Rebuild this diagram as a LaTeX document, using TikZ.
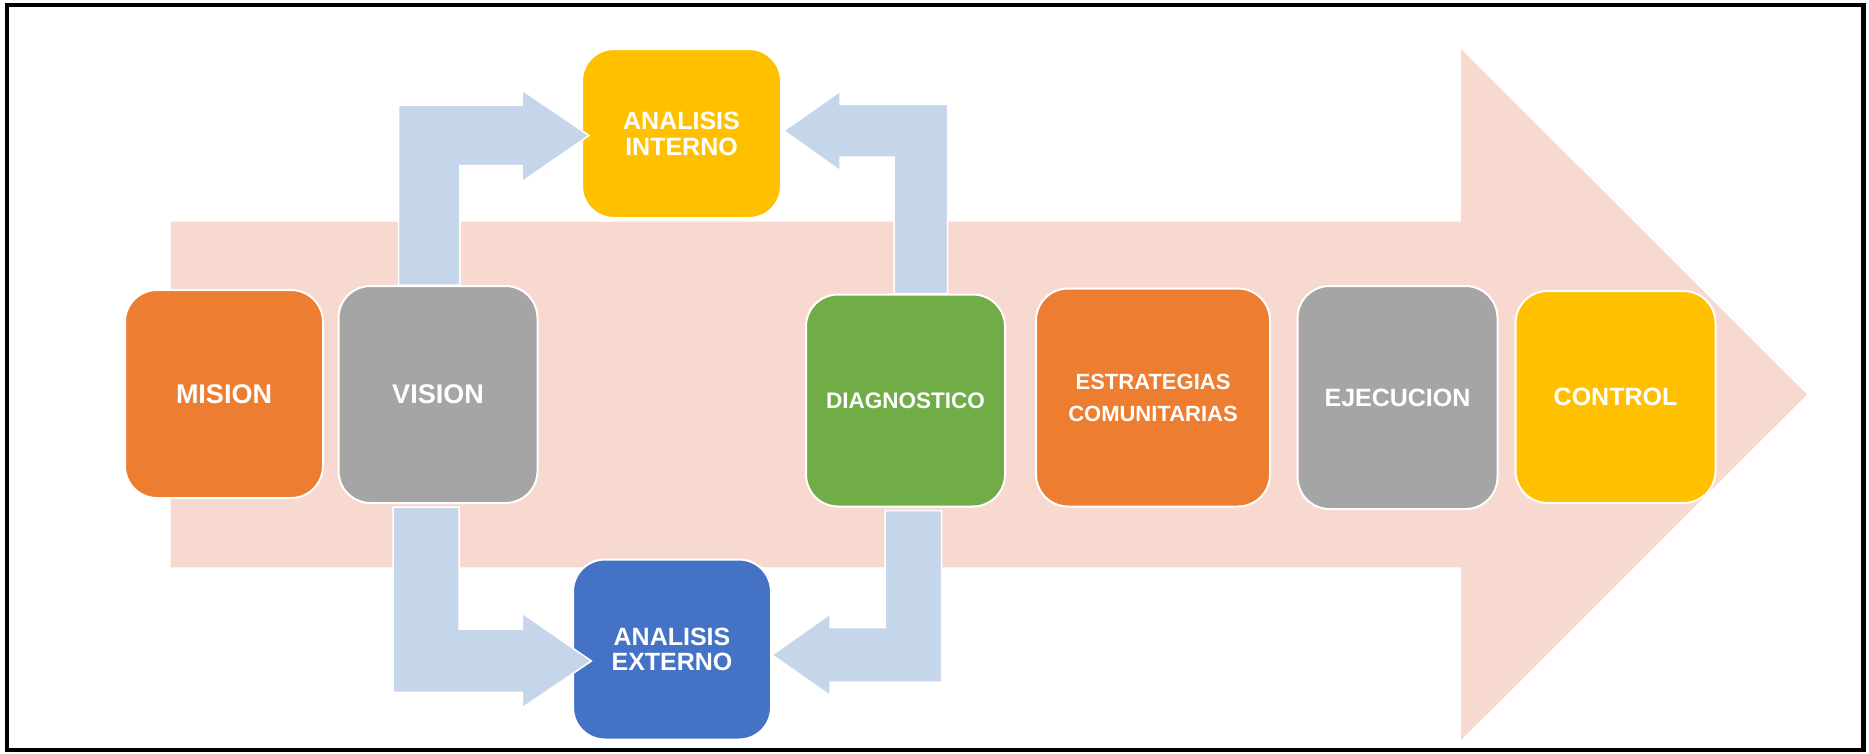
\documentclass[tikz,border=0pt]{standalone}
\usepackage{fontspec}
\setsansfont{Liberation Sans}
\usetikzlibrary{calc}
\definecolor{cOrange}{HTML}{ED7D31}
\definecolor{cGray}{HTML}{A5A5A5}
\definecolor{cYellow}{HTML}{FFC000}
\definecolor{cGreen}{HTML}{70AD47}
\definecolor{cBlue}{HTML}{4472C4}
\definecolor{cFlow}{HTML}{C5D5EA}
\definecolor{cBand}{HTML}{F7D9CF}
\begin{document}
\begin{tikzpicture}[x=1pt,y=-1pt,
  stage/.style={rectangle, rounded corners=32pt, draw=white, line width=2pt,
    text=white, align=center, font=\sffamily\bfseries},
  flow/.style={fill=cFlow, draw=white, line width=1.5pt, line join=miter},
  txtA/.style={font=\sffamily\bfseries\fontsize{27}{30}\selectfont},
  txtB/.style={font=\sffamily\bfseries\fontsize{25}{26}\selectfont},
  txtC/.style={font=\sffamily\bfseries\fontsize{22}{32}\selectfont}]
\useasboundingbox (0,0) rectangle (1869,753);
\fill[white] (0,0) rectangle (1869,753);

% wide background arrow
\fill[cBand] (170.5,221.7) -- (1461,221.7) -- (1461,48.9) -- (1807,394.5)
  -- (1461,740.2) -- (1461,567.4) -- (170.5,567.4) -- cycle;

% stages
\node[stage, fill=cOrange, minimum width=198pt, minimum height=208pt, txtA] (mision) at (224,394) {MISION};
\node[stage, fill=cGray, minimum width=199pt, minimum height=217pt, txtA] (vision) at (438,394.5) {VISION};
\node[stage, fill=cYellow, minimum width=199pt, minimum height=169pt, txtB] (ai) at (681.5,133.5) {ANALISIS\\INTERNO};
\node[stage, fill=cGreen, minimum width=199pt, minimum height=212pt, font=\sffamily\bfseries\fontsize{22.5}{26}\selectfont] (diag) at (905.5,400.5) {DIAGNOSTICO};
\node[stage, fill=cOrange, minimum width=234pt, minimum height=218pt, txtC] (estr) at (1153,397.5) {ESTRATEGIAS\\COMUNITARIAS};
\node[stage, fill=cGray, minimum width=200pt, minimum height=223pt, txtB] (ejec) at (1397.5,397.5) {EJECUCION};
\node[stage, fill=cYellow, minimum width=200pt, minimum height=212pt, txtB] (ctrl) at (1615.5,397) {CONTROL};
\node[stage, fill=cBlue, minimum width=198pt, minimum height=180pt, font=\sffamily\bfseries\fontsize{25}{25}\selectfont] (ae) at (672,649.5) {ANALISIS\\EXTERNO};

% bent block arrows
\draw[flow] ($(vision.north)+(-39.3,0)$) |- (522,105.3) -- (522,90) -- ($(ai.west)+(8,2)$)
  -- (522,181.7) -- (522,165.7) -| ($(vision.north)+(21.8,0)$) -- cycle;
\draw[flow] ($(diag.north)+(42.2,0)$) |- (840,104.3) -- (840,91.3) -- ($(ai.east)+(1.8,-2.7)$)
  -- (840,170.7) -- (840,157.2) -| ($(diag.north)+(-11.5,0)$) -- cycle;
\draw[flow] ($(vision.south)+(-45,3)$) |- (522.4,692.3) -- (522.4,707.7) -- ($(ae.west)+(19.4,11.5)$)
  -- (522.4,613.3) -- (522.4,629) -| ($(vision.south)+(21,3)$) -- cycle;
\draw[flow] ($(diag.south)+(36,3)$) |- (830,682) -- (830,695.5) -- ($(ae.east)+(0,5.5)$)
  -- (830,614) -- (830,627.5) -| ($(diag.south)+(-20.5,3)$) -- cycle;

% frame
\draw[line width=4.5pt] (6.75,5) rectangle (1863.5,750);
\end{tikzpicture}
\end{document}
